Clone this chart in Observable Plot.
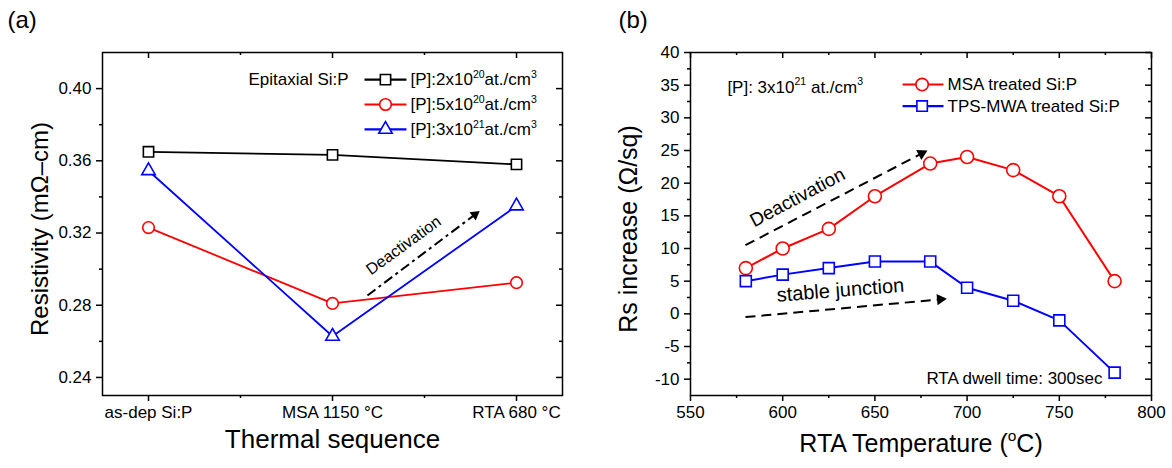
<!DOCTYPE html>
<html>
<head>
<meta charset="utf-8">
<script src="https://cdn.jsdelivr.net/npm/d3@7"></script>
<script src="https://cdn.jsdelivr.net/npm/@observablehq/plot@0.6"></script>
<style>
  html, body { margin: 0; padding: 0; background: #fff; }
  #wrap { position: relative; width: 1172px; height: 468px; overflow: hidden; background: #fff; }
  #pa, #pb { position: absolute; top: 0; }
  #pa { left: 0; }
  #pb { left: 590px; }
</style>
</head>
<body>
<div id="wrap"><div id="pa"></div><div id="pb"></div></div>
<script>
// ---------------- DATA: panel (a) ----------------
const stagesA = ["as-dep Si:P", "MSA 1150 °C", "RTA 680 °C"];
const stageIndexA = [0, 1, 2];
const stageMinorA = [0.5, 1.5];
const rhoP2e20 = [0.365, 0.3633, 0.358];
const rhoP5e20 = [0.323, 0.281, 0.2925];
const rhoP3e21 = [0.3545, 0.2628, 0.335];
const seriesNamesA = ["[P]:2x10^{20}at./cm^{3}", "[P]:5x10^{20}at./cm^{3}", "[P]:3x10^{21}at./cm^{3}"];
const legendTitleA = "Epitaxial Si:P";
const yTicksA = [0.24, 0.28, 0.32, 0.36, 0.40];
const yMinorA = [0.26, 0.30, 0.34, 0.38];

// ---------------- DATA: panel (b) ----------------
const tempsB = [580, 600, 625, 650, 680, 700, 725, 750, 780];
const rsMSA = [7, 10, 13, 18, 23, 24, 22, 18, 5];
const rsTPS = [5, 6, 7, 8, 8, 4, 2, -1, -9];
const seriesNamesB = ["MSA treated Si:P", "TPS-MWA treated Si:P"];
const xTicksB = [550, 600, 650, 700, 750, 800];
const xMinorB = [575, 625, 675, 725, 775];
const yTicksB = [-10, -5, 0, 5, 10, 15, 20, 25, 30, 35, 40];
const yMinorB = [-7.5, -2.5, 2.5, 7.5, 12.5, 17.5, 22.5, 27.5, 32.5, 37.5];

// ---------------- STYLE ----------------
const FONT = "'Liberation Sans', Arial, Helvetica, sans-serif";
const TICK_FS = 17;
const SW = 1.5;

function geom(W, H, mL, mR, mT, mB) {
  return {W, H, mL, mR, mT, mB, fw: W - mL - mR, fh: H - mT - mB};
}

// arrow made of a dashed link + a filled triangle head (dot symbol)
function arrow(xs, ys, p0, tip, {dash, width = 2, r = 4}) {
  const P0 = [xs(p0[0]), ys(p0[1])], T = [xs(tip[0]), ys(tip[1])];
  const dx = T[0] - P0[0], dy = T[1] - P0[1], L = Math.hypot(dx, dy);
  const u = [dx / L, dy / L];
  const k = 0.7776 * r;            // d3 triangle: centroid-to-base distance
  const B = [T[0] - u[0] * 2.6 * k, T[1] - u[1] * 2.6 * k];
  const C = [T[0] - u[0] * 2 * k, T[1] - u[1] * 2 * k];
  const ang = Math.atan2(dy, dx) * 180 / Math.PI;
  return [
    Plot.link([0], {x1: p0[0], y1: p0[1], x2: xs.invert(B[0]), y2: ys.invert(B[1]),
      stroke: "black", strokeWidth: width, strokeDasharray: dash}),
    Plot.dot([0], {x: xs.invert(C[0]), y: ys.invert(C[1]), symbol: "triangle", r,
      fill: "black", stroke: "none", rotate: ang + 90})
  ];
}

function superscriptify(svg) {
  d3.select(svg).selectAll("text").each(function () {
    const t = this.textContent;
    if (!t.includes("^{")) return;
    const fs = parseFloat(getComputedStyle(this).fontSize) || TICK_FS;
    const parts = t.split(/(\^\{[^}]*\})/).filter(p => p.length);
    const sel = d3.select(this);
    sel.text(null);
    let raised = false;
    for (const p of parts) {
      const m = p.match(/^\^\{([^}]*)\}$/);
      if (m) {
        sel.append("tspan").attr("dy", -0.42 * fs).attr("font-size", 0.62 * fs).text(m[1]);
        raised = true;
      } else {
        const ts = sel.append("tspan").text(p);
        if (raised) { ts.attr("dy", 0.42 * fs); raised = false; }
      }
    }
  });
}

// ---------------- PANEL (a) ----------------
const gA = geom(590, 468, 102, 28, 52, 73);
const xDomA = [-0.25, 2.25], yDomA = [0.23, 0.42];
const xsA = d3.scaleLinear(xDomA, [gA.mL, gA.W - gA.mR]);
const ysA = d3.scaleLinear(yDomA, [gA.H - gA.mB, gA.mT]);

const seriesA = [
  {vals: rhoP2e20, color: "#000000", symbol: "square", r: 5.8},
  {vals: rhoP5e20, color: "#ff0000", symbol: "circle", r: 5.8},
  {vals: rhoP3e21, color: "#0000ff", symbol: "triangle", r: 5.0}
];
const legendYA = [0.405, 0.3912, 0.3774];

const marksA = [];
seriesA.forEach((s, si) => {
  const data = s.vals.map((v, i) => ({stage: stageIndexA[i], value: v}));
  marksA.push(Plot.line(data, {x: "stage", y: "value", stroke: s.color, strokeWidth: 1.8}));
  marksA.push(Plot.dot(data, {x: "stage", y: "value", symbol: s.symbol, r: s.r, stroke: s.color, fill: "white", strokeWidth: 1.6}));
  // legend entry
  const ly = legendYA[si];
  marksA.push(Plot.link([0], {x1: 1.174, x2: 1.402, y1: ly, y2: ly, stroke: s.color, strokeWidth: 2.2}));
  marksA.push(Plot.dot([0], {x: 1.288, y: ly, symbol: s.symbol, r: s.r, stroke: s.color, fill: "white", strokeWidth: 1.6}));
  marksA.push(Plot.text([seriesNamesA[si]], {x: 1.424, y: ly, textAnchor: "start", fontSize: TICK_FS}));
});

const plotA = Plot.plot({
  width: gA.W, height: gA.H,
  marginLeft: gA.mL, marginRight: gA.mR, marginTop: gA.mT, marginBottom: gA.mB,
  x: {domain: xDomA, label: null},
  y: {domain: yDomA, label: null},
  style: {fontFamily: FONT, fontSize: TICK_FS + "px", color: "black", background: "white", overflow: "visible"},
  marks: [
    Plot.axisX(stageIndexA, {tickSize: 6, tickPadding: 4, strokeWidth: SW, fontSize: TICK_FS, label: null, tickFormat: i => stagesA[i]}),
    Plot.axisX(stageMinorA, {tickSize: 3, strokeWidth: SW, label: null, tickFormat: () => ""}),
    Plot.axisY(yTicksA, {tickSize: 6, tickPadding: 5, strokeWidth: SW, fontSize: TICK_FS, label: null, tickFormat: d3.format(".2f")}),
    Plot.axisY(yMinorA, {tickSize: 3, strokeWidth: SW, label: null, tickFormat: () => ""}),
    Plot.ruleX(stageIndexA, {insetBottom: gA.fh - 6, strokeWidth: SW}),
    Plot.ruleX(stageMinorA, {insetBottom: gA.fh - 3, strokeWidth: SW}),
    Plot.ruleY(yTicksA, {insetLeft: gA.fw - 6, strokeWidth: SW}),
    Plot.ruleY(yMinorA, {insetLeft: gA.fw - 3, strokeWidth: SW}),
    Plot.frame({stroke: "black", strokeWidth: SW}),
    ...marksA,
    Plot.text([legendTitleA], {x: 0.5435, y: 0.405, textAnchor: "start", fontSize: TICK_FS}),
    ...arrow(xsA, ysA, [1.19, 0.2854], [1.80, 0.3322], {dash: "10,4,3,4", width: 2, r: 3.8}),
    Plot.text(["Deactivation"], {x: 1.386, y: 0.3131, rotate: -36, fontSize: 16}),
    Plot.text(["Thermal sequence"], {frameAnchor: "bottom", dy: 44, textAnchor: "middle", lineAnchor: "middle", fontSize: 26}),
    Plot.text(["Resistivity (mΩ–cm)"], {frameAnchor: "left", dx: -62, dy: 5, textAnchor: "middle", lineAnchor: "middle", rotate: -90, fontSize: 24}),
    Plot.text(["(a)"], {frameAnchor: "top-left", dx: -95, dy: -32, textAnchor: "start", lineAnchor: "middle", fontSize: 24})
  ]
});

// ---------------- PANEL (b) ----------------
const gB = geom(582, 468, 100, 21, 52, 73);
const xDomB = [550, 800], yDomB = [-12.5, 40];
const xsB = d3.scaleLinear(xDomB, [gB.mL, gB.W - gB.mR]);
const ysB = d3.scaleLinear(yDomB, [gB.H - gB.mB, gB.mT]);

const seriesB = [
  {vals: rsMSA, color: "#ff0000", symbol: "circle", r: 6.5},
  {vals: rsTPS, color: "#0000ff", symbol: "square", r: 6.2}
];
const legendYB = [35.1, 31.8];
const marksB = [];
seriesB.forEach((s, si) => {
  const data = s.vals.map((v, i) => ({t: tempsB[i], rs: v}));
  marksB.push(Plot.line(data, {x: "t", y: "rs", stroke: s.color, strokeWidth: 2}));
  marksB.push(Plot.dot(data, {x: "t", y: "rs", symbol: s.symbol, r: s.r, stroke: s.color, fill: "white", strokeWidth: 1.6}));
  const ly = legendYB[si];
  marksB.push(Plot.link([0], {x1: 665, x2: 687.2, y1: ly, y2: ly, stroke: s.color, strokeWidth: 2.2}));
  marksB.push(Plot.dot([0], {x: 675.6, y: ly, symbol: s.symbol, r: s.r * 0.95, stroke: s.color, fill: "white", strokeWidth: 1.6}));
  marksB.push(Plot.text([seriesNamesB[si]], {x: 689.4, y: ly, textAnchor: "start", fontSize: TICK_FS}));
});

const plotB = Plot.plot({
  width: gB.W, height: gB.H,
  marginLeft: gB.mL, marginRight: gB.mR, marginTop: gB.mT, marginBottom: gB.mB,
  x: {domain: xDomB, label: null},
  y: {domain: yDomB, label: null},
  style: {fontFamily: FONT, fontSize: TICK_FS + "px", color: "black", background: "white", overflow: "visible"},
  marks: [
    Plot.axisX(xTicksB, {tickSize: 6, tickPadding: 4, strokeWidth: SW, fontSize: TICK_FS, label: null, tickFormat: d => String(d)}),
    Plot.axisX(xMinorB, {tickSize: 3, strokeWidth: SW, label: null, tickFormat: () => ""}),
    Plot.axisY(yTicksB, {tickSize: 6, tickPadding: 5, strokeWidth: SW, fontSize: TICK_FS, label: null, tickFormat: d => String(d)}),
    Plot.axisY(yMinorB, {tickSize: 3, strokeWidth: SW, label: null, tickFormat: () => ""}),
    Plot.ruleX(xTicksB, {insetBottom: gB.fh - 6, strokeWidth: SW}),
    Plot.ruleX(xMinorB, {insetBottom: gB.fh - 3, strokeWidth: SW}),
    Plot.ruleY(yTicksB, {insetLeft: gB.fw - 6, strokeWidth: SW}),
    Plot.ruleY(yMinorB, {insetLeft: gB.fw - 3, strokeWidth: SW}),
    Plot.frame({stroke: "black", strokeWidth: SW}),
    ...marksB,
    Plot.text(["[P]: 3x10^{21} at./cm^{3}"], {x: 570, y: 34.7, textAnchor: "start", fontSize: TICK_FS}),
    ...arrow(xsB, ysB, [579.8, 10.5], [678.5, 25.0], {dash: "10,6", width: 2, r: 4.2}),
    Plot.text(["Deactivation"], {x: 608, y: 17.8, rotate: -28, fontSize: 19}),
    ...arrow(xsB, ysB, [579.8, -0.5], [689, 2.3], {dash: "10,6", width: 2, r: 4.2}),
    Plot.text(["stable junction"], {x: 631.3, y: 3.6, rotate: -4.5, fontSize: 20}),
    Plot.text(["RTA dwell time: 300sec"], {x: 773.4, y: -9.9, textAnchor: "end", fontSize: TICK_FS}),
    Plot.text(["RTA Temperature (^{o}C)"], {frameAnchor: "bottom", dy: 48, textAnchor: "middle", lineAnchor: "middle", fontSize: 25}),
    Plot.text(["Rs increase (Ω/sq)"], {frameAnchor: "left", dx: -62, dy: 5, textAnchor: "middle", lineAnchor: "middle", rotate: -90, fontSize: 25}),
    Plot.text(["(b)"], {frameAnchor: "top-left", dx: -72, dy: -32, textAnchor: "start", lineAnchor: "middle", fontSize: 24})
  ]
});

document.getElementById("pa").appendChild(plotA);
document.getElementById("pb").appendChild(plotB);
superscriptify(plotA);
superscriptify(plotB);
</script>
</body>
</html>
